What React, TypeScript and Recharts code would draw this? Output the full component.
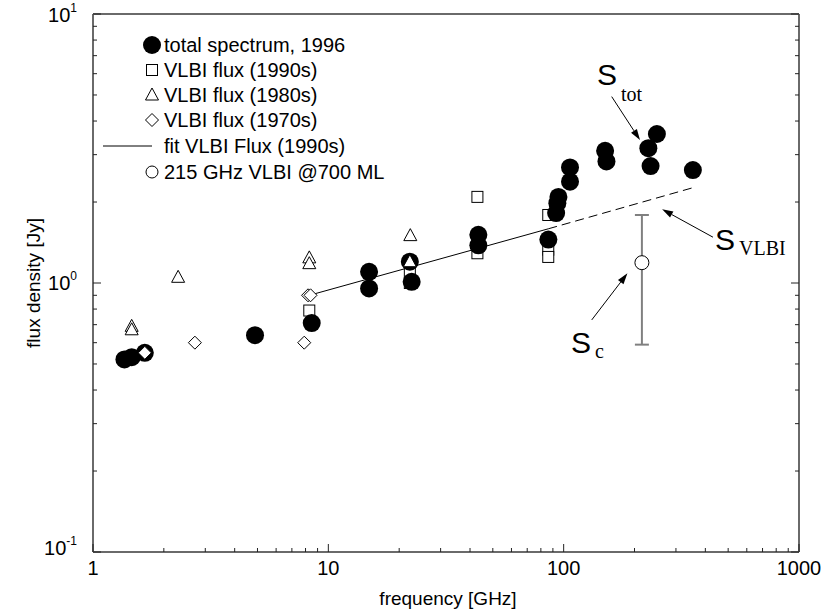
import React from "react";
import {
  ScatterChart,
  Scatter,
  XAxis,
  YAxis,
  ErrorBar,
  ReferenceLine,
  ReferenceDot,
} from "recharts";

const SANS = "'Liberation Sans', Arial, Helvetica, sans-serif";
const SERIF = "'Liberation Serif', 'Times New Roman', serif";

// total spectrum, 1996 (GHz / Jy)
const totalFreq = [1.36, 1.46, 1.66, 4.88, 8.5, 14.9, 14.9, 22.6, 22.2, 43.4, 43.4, 86.1, 92.9, 94, 95, 106.4, 106.4, 150, 152, 229, 249, 234, 354];
const totalFlux = [0.52, 0.53, 0.55, 0.64, 0.71, 1.1, 0.955, 1.01, 1.2, 1.51, 1.38, 1.45, 1.82, 1.98, 2.09, 2.38, 2.69, 3.1, 2.83, 3.17, 3.58, 2.72, 2.63];

// VLBI flux, 1990s
const vlbi90Freq = [8.3, 22.2, 22.2, 43, 43, 86, 86, 86];
const vlbi90Flux = [0.79, 1.1, 1.0, 1.29, 2.09, 1.79, 1.33, 1.25];

// VLBI flux, 1980s
const vlbi80Freq = [1.46, 1.46, 2.3, 8.3, 8.3, 22.3, 22.2];
const vlbi80Flux = [0.69, 0.67, 1.05, 1.24, 1.18, 1.5, 1.2];

// VLBI flux, 1970s
const vlbi70Freq = [1.66, 2.71, 7.9, 8.2, 8.4];
const vlbi70Flux = [0.55, 0.6, 0.6, 0.9, 0.9];

// fit to the 1990s VLBI flux (solid over the data, dashed beyond)
const fitFreq = [8.3, 86, 360];
const fitFlux = [0.9, 1.59, 2.27];

// 215 GHz VLBI @700 ML
const mmFreq = [215];
const mmFlux = [1.19];
const mmErr = [0.6];

const xTicks = [1, 2, 3, 4, 5, 6, 7, 8, 9, 10, 20, 30, 40, 50, 60, 70, 80, 90, 100, 200, 300, 400, 500, 600, 700, 800, 900, 1000];
const yTicks = [0.1, 0.2, 0.3, 0.4, 0.5, 0.6, 0.7, 0.8, 0.9, 1, 2, 3, 4, 5, 6, 7, 8, 9, 10];

// annotations: label anchor and arrow (from -> to), in data units
const labels = [
  { f: 138.6, s: 5.45, main: "S", sub: "tot", dy: 16 },
  { f: 440, s: 1.33, main: "S", sub: "VLBI", dy: 5 },
  { f: 107.5, s: 0.549, main: "S", sub: "c", dy: 5 },
];
const arrows = [
  { f1: 160, s1: 4.93, f2: 211, s2: 3.4 },
  { f1: 431, s1: 1.48, f2: 262, s2: 1.88 },
  { f1: 131.6, s1: 0.729, f2: 186.6, s2: 1.086 },
];

const zip = (xs: number[], ys: number[]) => xs.map((f, i) => ({ f, s: ys[i] }));

const totalData = zip(totalFreq, totalFlux);
const vlbi90Data = zip(vlbi90Freq, vlbi90Flux);
const vlbi80Data = zip(vlbi80Freq, vlbi80Flux);
const vlbi70Data = zip(vlbi70Freq, vlbi70Flux);
const fitSolid = zip(fitFreq.slice(0, 2), fitFlux.slice(0, 2));
const fitDashed = zip(fitFreq.slice(1), fitFlux.slice(1));
const mmData = mmFreq.map((f, i) => ({ f, s: mmFlux[i], err: [mmErr[i], mmErr[i]] }));

const isDecade = (v: number) =>
  Math.abs(Math.log10(v) - Math.round(Math.log10(v))) < 1e-9;

const circle = (p: any) => <circle cx={p.cx} cy={p.cy} r={9} fill="#000" />;
const square = (p: any) => (
  <rect x={p.cx - 5.5} y={p.cy - 5.5} width={11} height={11} fill="#fff" stroke="#000" strokeWidth={1} />
);
const triangle = (p: any) => (
  <polygon
    points={`${p.cx},${p.cy - 7} ${p.cx - 6.5},${p.cy + 5} ${p.cx + 6.5},${p.cy + 5}`}
    fill="#fff"
    stroke="#000"
    strokeWidth={1}
  />
);
const diamond = (p: any) => (
  <polygon
    points={`${p.cx},${p.cy - 6.5} ${p.cx + 6.5},${p.cy} ${p.cx},${p.cy + 6.5} ${p.cx - 6.5},${p.cy}`}
    fill="#fff"
    stroke="#000"
    strokeWidth={1}
  />
);
const openCircle = (p: any) => (
  <circle cx={p.cx} cy={p.cy} r={7} fill="#fff" stroke="#000" strokeWidth={1} />
);
const noShape = () => <g />;

function makeTick(side: "bottom" | "top" | "left" | "right", withLabel: boolean) {
  return (props: any) => {
    const { x, y, payload } = props;
    const v = payload.value;
    const major = isDecade(v);
    const len = major ? 8 : 4;
    let line;
    if (side === "bottom") line = <line x1={x} y1={y} x2={x} y2={y - len} stroke="#222" />;
    else if (side === "top") line = <line x1={x} y1={y} x2={x} y2={y + len} stroke="#222" />;
    else if (side === "left") line = <line x1={x} y1={y} x2={x + len} y2={y} stroke="#222" />;
    else line = <line x1={x} y1={y} x2={x - len} y2={y} stroke="#222" />;

    let label = null;
    if (withLabel && major && side === "bottom") {
      label = (
        <text x={x} y={y + 23} textAnchor="middle" fontFamily={SANS} fontSize={20} fill="#000">
          {String(v)}
        </text>
      );
    }
    if (withLabel && major && side === "left") {
      const exp = Math.round(Math.log10(v));
      const base = exp < 0 ? y + 3 : exp > 0 ? y + 8 : y + 7;
      label = (
        <text x={x - 16} y={base} textAnchor="end" fontFamily={SANS} fontSize={20} fill="#000">
          10
          <tspan dy={-10} fontSize={12}>
            {String(exp)}
          </tspan>
        </text>
      );
    }
    return (
      <g>
        {line}
        {label}
      </g>
    );
  };
}

function Arrow(p: any) {
  const { x1, y1, x2, y2 } = p;
  const dx = x2 - x1;
  const dy = y2 - y1;
  const d = Math.sqrt(dx * dx + dy * dy);
  const ux = dx / d;
  const uy = dy / d;
  const hl = 11;
  const hw = 3.5;
  const bx = x2 - ux * hl;
  const by = y2 - uy * hl;
  return (
    <g>
      <line x1={x1} y1={y1} x2={bx} y2={by} stroke="#000" strokeWidth={1} />
      <polygon
        points={`${x2},${y2} ${bx - uy * hw},${by + ux * hw} ${bx + uy * hw},${by - ux * hw}`}
        fill="#000"
      />
    </g>
  );
}

const axisLine = { stroke: "#6a6a6a", strokeWidth: 2 };

function Legend() {
  const mx = 152;
  const tx = 164;
  const rows = [45, 70, 95, 120, 146, 172];
  const texts = [
    "total spectrum, 1996",
    "VLBI flux (1990s)",
    "VLBI flux (1980s)",
    "VLBI flux (1970s)",
    "fit VLBI Flux (1990s)",
    "215 GHz VLBI @700 ML",
  ];
  return (
    <g>
      {circle({ cx: mx, cy: rows[0] })}
      {square({ cx: mx, cy: rows[1] })}
      {triangle({ cx: mx, cy: rows[2] })}
      {diamond({ cx: mx, cy: rows[3] })}
      <line x1={103} y1={rows[4]} x2={152} y2={rows[4]} stroke="#000" strokeWidth={1} />
      <circle cx={mx} cy={rows[5]} r={6} fill="#fff" stroke="#000" strokeWidth={1} />
      {texts.map((t, i) => (
        <text key={t} x={tx} y={rows[i] + 7} fontFamily={SANS} fontSize={20} fill="#000">
          {t}
        </text>
      ))}
    </g>
  );
}

export default function App() {
  return (
    <div style={{ position: "absolute", left: 0, top: 0, width: 825, height: 612, background: "#fff" }}>
      <ScatterChart width={825} height={612} margin={{ top: 13, right: 25, bottom: 59, left: 92 }}>
        <XAxis
          dataKey="f"
          type="number"
          scale="log"
          domain={[1, 1000]}
          allowDataOverflow
          ticks={xTicks}
          interval={0}
          height={1}
          tickSize={0}
          tickMargin={0}
          tickLine={false}
          axisLine={axisLine}
          tick={makeTick("bottom", true)}
        />
        <XAxis
          xAxisId="top"
          orientation="top"
          type="number"
          scale="log"
          domain={[1, 1000]}
          allowDataOverflow
          ticks={xTicks}
          interval={0}
          height={1}
          tickSize={0}
          tickMargin={0}
          tickLine={false}
          axisLine={axisLine}
          tick={makeTick("top", false)}
        />
        <YAxis
          dataKey="s"
          type="number"
          scale="log"
          domain={[0.1, 10]}
          allowDataOverflow
          ticks={yTicks}
          interval={0}
          width={1}
          tickSize={0}
          tickMargin={0}
          tickLine={false}
          axisLine={axisLine}
          tick={makeTick("left", true)}
        />
        <YAxis
          yAxisId="right"
          orientation="right"
          type="number"
          scale="log"
          domain={[0.1, 10]}
          allowDataOverflow
          ticks={yTicks}
          interval={0}
          width={1}
          tickSize={0}
          tickMargin={0}
          tickLine={false}
          axisLine={axisLine}
          tick={makeTick("right", false)}
        />

        <Scatter data={fitSolid} line={{ stroke: "#000", strokeWidth: 1 }} shape={noShape} isAnimationActive={false} />
        <Scatter
          data={fitDashed}
          line={{ stroke: "#000", strokeWidth: 1, strokeDasharray: "9 5" }}
          shape={noShape}
          isAnimationActive={false}
        />
        <Scatter data={vlbi90Data} shape={square} isAnimationActive={false} />
        <Scatter data={totalData} shape={circle} isAnimationActive={false} />
        <Scatter data={vlbi80Data} shape={triangle} isAnimationActive={false} />
        <Scatter data={vlbi70Data} shape={diamond} isAnimationActive={false} />
        <Scatter data={mmData} shape={openCircle} isAnimationActive={false}>
          <ErrorBar dataKey="err" direction="y" width={7} stroke="#808080" strokeWidth={2} />
        </Scatter>

        {arrows.map((a, i) => (
          <ReferenceLine
            key={"a" + i}
            segment={[
              { x: a.f1, y: a.s1 },
              { x: a.f2, y: a.s2 },
            ]}
            ifOverflow="visible"
            shape={(p: any) => <Arrow {...p} />}
          />
        ))}
        {labels.map((l, i) => (
          <ReferenceDot
            key={"l" + i}
            x={l.f}
            y={l.s}
            r={1}
            ifOverflow="visible"
            shape={(p: any) => (
              <text x={p.cx} y={p.cy} fontFamily={SANS} fontSize={30} fill="#000">
                {l.main}
                <tspan dx={4} dy={l.dy} fontFamily={SERIF} fontSize={20}>
                  {l.sub}
                </tspan>
              </text>
            )}
          />
        ))}
      </ScatterChart>
      <svg
        width={825}
        height={612}
        style={{ position: "absolute", left: 0, top: 0, pointerEvents: "none" }}
      >
        <Legend />
        <text x={448} y={605} textAnchor="middle" fontFamily={SANS} fontSize={19} fill="#000">
          frequency [GHz]
        </text>
        <text
          x={40}
          y={283}
          textAnchor="middle"
          fontFamily={SANS}
          fontSize={19}
          fill="#000"
          transform="rotate(-90 40 283)"
        >
          flux density [Jy]
        </text>
      </svg>
    </div>
  );
}
